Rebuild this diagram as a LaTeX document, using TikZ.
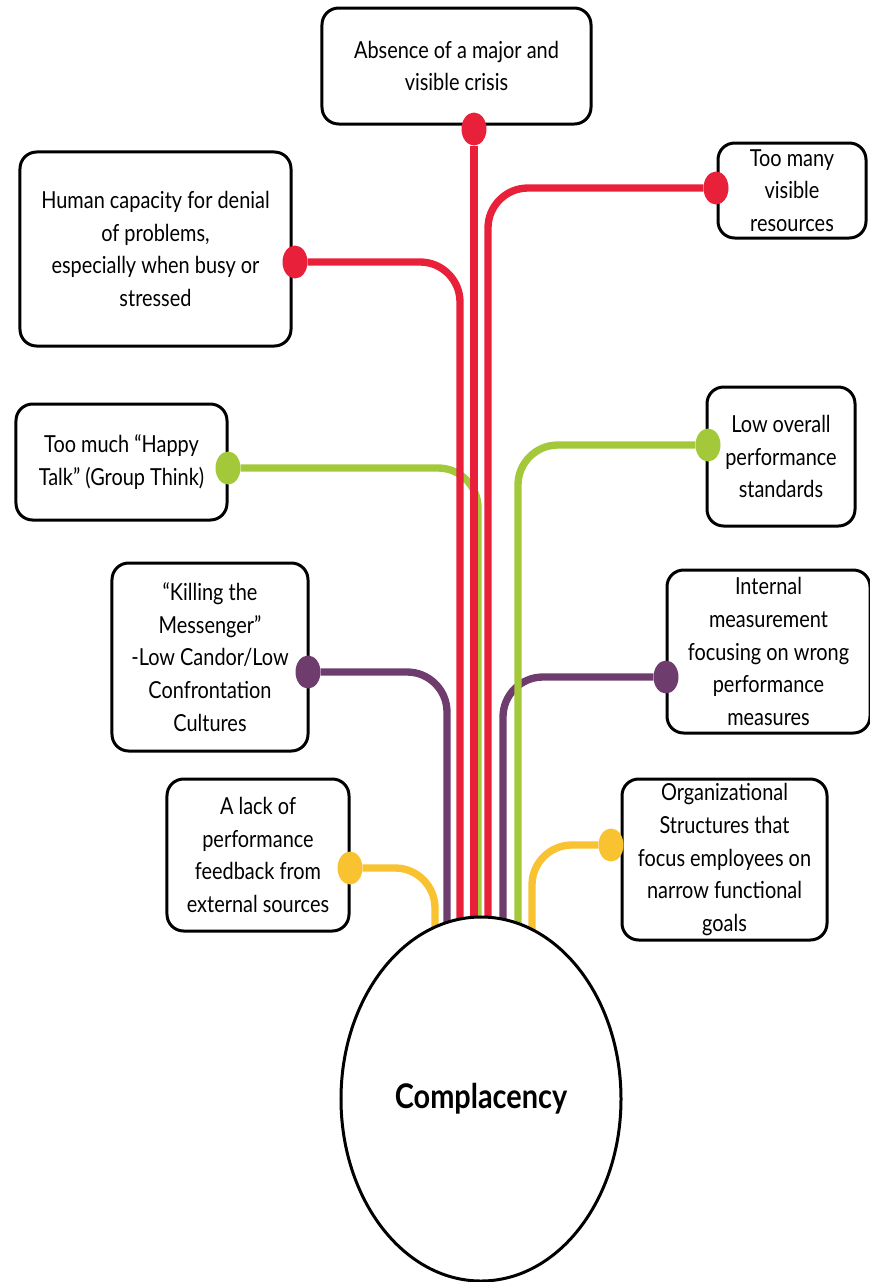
\documentclass[tikz,border=0pt]{standalone}
\usepackage{fontspec}
\setmainfont[FakeStretch=0.85]{Lato}
\usetikzlibrary{positioning,shapes.geometric,backgrounds}
\definecolor{linered}{HTML}{E8203A}
\definecolor{linegreen}{HTML}{A3C93A}
\definecolor{linepurple}{HTML}{6E3D6E}
\definecolor{lineyellow}{HTML}{F8C231}

\begin{document}
\begin{tikzpicture}[
x=0.03cm, y=-0.03cm,
box/.style={draw, line width=0.09cm, rounded corners=0.5cm, align=center, inner sep=0pt, font=\fontsize{20}{28}\selectfont},
dot/.style={ellipse, inner sep=0pt, minimum width=0.75cm, minimum height=0.99cm},
link/.style={line width=0.22cm, rounded corners=1.2cm}
]
\useasboundingbox (0,0) rectangle (870,1282);

% cause boxes
\node[box, minimum width=8.07cm, minimum height=3.48cm] (crisis) at (456.5,66) {Absence of a major and\\visible crisis};
\node[box, minimum width=8.13cm, minimum height=5.82cm] (denial) at (155.5,249) {Human capacity for denial\\of problems,\\especially when busy or\\stressed};
\node[box, minimum width=4.44cm, minimum height=2.85cm] (resources) at (792,190.5) {Too many\\visible\\resources};
\node[box, minimum width=6.33cm, minimum height=3.48cm] (happy) at (121.5,462) {Too much “Happy\\Talk” (Group Think)};
\node[box, minimum width=4.44cm, minimum height=4.17cm] (standards) at (781,456.5) {Low overall\\performance\\standards};
\node[box, minimum width=5.88cm, minimum height=5.64cm] (messenger) at (210,657) {“Killing the\\Messenger”\\-Low Candor/Low\\Confrontation\\Cultures};
\node[box, minimum width=6.09cm, minimum height=4.89cm] (measures) at (768.5,651.5) {Internal\\measurement\\focusing on wrong\\performance\\measures};
\node[box, minimum width=5.46cm, minimum height=4.56cm] (feedback) at (258,855) {A lack of\\performance\\feedback from\\external sources};
\node[box, minimum width=6.15cm, minimum height=4.83cm] (structures) at (724.5,859.5) {Organizational\\Structures that\\focus employees on\\narrow functional\\goals};

% the big ellipse
\node[ellipse, draw, fill=white, line width=0.09cm, minimum width=8.4cm, minimum height=10.92cm, font=\fontsize{29}{32}\selectfont\bfseries] (comp) at (481,1099) {\raisebox{-0.15cm}{Complacency}};

% dots
\node[dot, fill=linered] (dCrisis) at (474,129) {};
\node[dot, fill=linered] (dDenial) at (295,262) {};
\node[dot, fill=linered] (dRes) at (716,188) {};
\node[dot, fill=linegreen] (dHappy) at (228,468) {};
\node[dot, fill=linegreen] (dStd) at (708,445) {};
\node[dot, fill=linepurple] (dMess) at (308,672) {};
\node[dot, fill=linepurple] (dMeas) at (666,677) {};
\node[dot, fill=lineyellow] (dFeed) at (350,868) {};
\node[dot, fill=lineyellow] (dStruct) at (611,845) {};

% ends inside the ellipse
\coordinate (eCrisis) at (474,1000);
\coordinate (eDenial) at (460,1000);
\coordinate (eRes) at (488,1000);
\coordinate (eHappy) at (478,1000);
\coordinate (eStd) at (518,1000);
\coordinate (eMess) at (447,1000);
\coordinate (eMeas) at (503,1000);
\coordinate (eFeed) at (435,1000);
\coordinate (eStruct) at (532,1000);

\begin{pgfonlayer}{background}
\draw[link, lineyellow] (dFeed) -| (eFeed);
\draw[link, lineyellow] (dStruct) -| (eStruct);
\draw[link, linepurple] (dMess) -| (eMess);
\draw[link, linepurple] (dMeas) -| (eMeas);
\draw[link, linegreen] (dHappy) -| (eHappy);
\draw[link, linegreen] (dStd) -| (eStd);
\draw[link, linered] (dCrisis) -- (eCrisis);
\draw[link, linered] (dDenial) -| (eDenial);
\draw[link, linered] (dRes) -| (eRes);
\end{pgfonlayer}
\end{tikzpicture}
\end{document}
